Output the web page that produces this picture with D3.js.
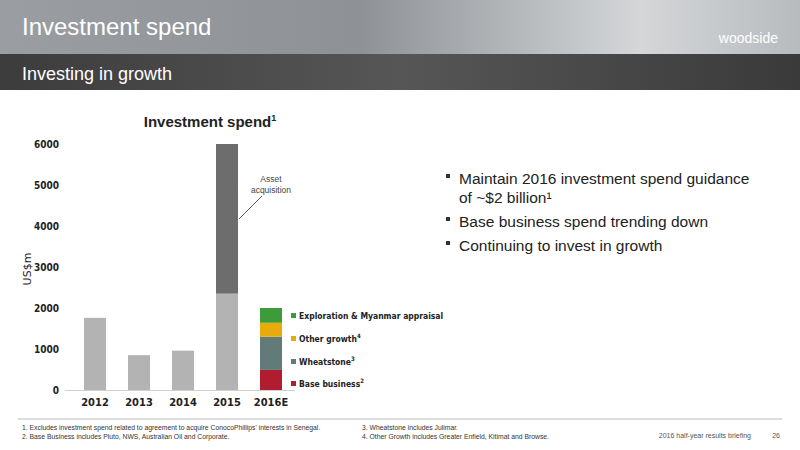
<!DOCTYPE html>
<html><head><meta charset="utf-8">
<script src="https://cdn.jsdelivr.net/npm/d3@7"></script>
<style>body{margin:0;background:#fff}svg{display:block;font-family:Arial,"Liberation Sans",sans-serif}</style>
</head><body><svg id="c" width="800" height="450"></svg>
<script>
const years = ["2012","2013","2014","2015","2016E"];
const baseSpend = [1760, 850, 960, 2350, 0];
const assetAcquisition = [0, 0, 0, 3650, 0];
const seg2016Names = ["Base business","Wheatstone","Other growth","Exploration & Myanmar appraisal"];
const seg2016Values = [490, 810, 340, 360];
const seg2016Sup = ["2","3","4",""];
const seg2016Colors = ["#b01c30","#627b79","#e7ab0b","#3d9b3a"];
const yTicks = [0,1000,2000,3000,4000,5000,6000];
const bullets = ["Maintain 2016 investment spend guidance|of ~$2 billion¹","Base business spend trending down","Continuing to invest in growth"];

const svg = d3.select("#c");
const defs = svg.append("defs");
const g1 = defs.append("linearGradient").attr("id","hg");
[["0%","#9a9ea2"],["45%","#8e9296"],["80%","#d4d6d8"],["100%","#b8bbbe"]].forEach(s=>g1.append("stop").attr("offset",s[0]).attr("stop-color",s[1]));
const g2 = defs.append("linearGradient").attr("id","sg");
[["0%","#3c3c3c"],["50%","#565656"],["100%","#3a3a3a"]].forEach(s=>g2.append("stop").attr("offset",s[0]).attr("stop-color",s[1]));
svg.append("rect").attr("width",800).attr("height",54).attr("fill","url(#hg)");
svg.append("rect").attr("y",54).attr("width",800).attr("height",36).attr("fill","url(#sg)");
svg.append("text").attr("x",22).attr("y",35).attr("fill","#fff").attr("font-size",24).text("Investment spend");
svg.append("text").attr("x",22).attr("y",80).attr("fill","#fff").attr("font-size",18).text("Investing in growth");
svg.append("text").attr("x",778).attr("y",43).attr("text-anchor","end").attr("fill","#fff").attr("font-size",14).text("woodside");

const x = d3.scaleBand().domain(years).range([73,293]).paddingInner(0.5).paddingOuter(0.25);
const y = d3.scaleLinear().domain([0,6000]).range([390,144]);

svg.append("text").attr("x",210).attr("y",127).attr("text-anchor","middle").attr("font-size",15).attr("font-weight","bold").attr("fill","#222").html('Investment spend<tspan font-size="9" dy="-6">1</tspan>');

const ya = svg.append("g").attr("transform","translate(62,0)").call(d3.axisLeft(y).tickValues(yTicks).tickSize(0).tickFormat(d3.format("d")));
ya.select(".domain").remove();
ya.selectAll("text").attr("font-size",10).attr("font-weight","bold").attr("fill","#222").attr("font-family","DejaVu Sans Condensed, sans-serif");
svg.append("text").attr("transform","translate(31,269) rotate(-90)").attr("text-anchor","middle").attr("font-size",11).attr("fill","#222").attr("font-family","DejaVu Sans, sans-serif").text("US$m");

svg.selectAll(".b").data(years.slice(0,4)).join("rect").attr("x",d=>x(d)).attr("width",x.bandwidth())
 .attr("y",(d,i)=>y(baseSpend[i])).attr("height",(d,i)=>y(0)-y(baseSpend[i])).attr("fill","#b3b3b3");
svg.selectAll(".a").data(years.slice(0,4)).join("rect").attr("x",d=>x(d)).attr("width",x.bandwidth())
 .attr("y",(d,i)=>y(baseSpend[i]+assetAcquisition[i])).attr("height",(d,i)=>y(0)-y(assetAcquisition[i])).attr("fill","#6d6d6d");
let cum=0;
const stacks = seg2016Values.map(v=>{const s=[cum,cum+v];cum+=v;return s;});
svg.selectAll(".s").data(stacks).join("rect").attr("x",x("2016E")).attr("width",x.bandwidth())
 .attr("y",d=>y(d[1])).attr("height",d=>y(d[0])-y(d[1])).attr("fill",(d,i)=>seg2016Colors[i]);
svg.append("line").attr("x1",65).attr("x2",295).attr("y1",y(0)+0.5).attr("y2",y(0)+0.5).attr("stroke","#d0d0d0");
const xa = svg.append("g").attr("transform",`translate(0,${y(0)+5})`).call(d3.axisBottom(x).tickSize(0));
xa.select(".domain").remove();
xa.selectAll("text").attr("font-size",11).attr("font-weight","bold").attr("fill","#222").attr("font-family","DejaVu Sans Condensed, sans-serif");

const ly = [388,366,343,320];
seg2016Names.forEach((n,i)=>{
  svg.append("rect").attr("x",291).attr("y",ly[i]-7).attr("width",5).attr("height",5).attr("fill",seg2016Colors[i]);
  svg.append("text").attr("x",299).attr("y",ly[i]-1).attr("font-size",8.5).attr("font-weight","bold").attr("fill","#222").attr("font-family","DejaVu Sans Condensed, sans-serif")
   .html(n+(seg2016Sup[i]?`<tspan font-size="6" dy="-4">${seg2016Sup[i]}</tspan>`:""));
});
svg.append("text").attr("x",271).attr("y",182).attr("text-anchor","middle").attr("font-size",8.5).attr("fill","#444").text("Asset");
svg.append("text").attr("x",271).attr("y",193).attr("text-anchor","middle").attr("font-size",8.5).attr("fill","#444").text("acquisition");
svg.append("line").attr("x1",262).attr("y1",196).attr("x2",239).attr("y2",219).attr("stroke","#333").attr("stroke-width",0.8);

let by=184;
bullets.forEach((b,i)=>{
  svg.append("rect").attr("x",446).attr("y",by-10).attr("width",4).attr("height",4).attr("fill","#333");
  b.split("|").forEach((ln,j)=>{
    svg.append("text").attr("x",459).attr("y",by+j*19).attr("font-size",15.5).attr("fill","#222").text(ln);
  });
  by += b.split("|").length*19+5;
});
svg.append("line").attr("x1",18).attr("x2",782).attr("y1",419).attr("y2",419).attr("stroke","#bbb");
const fn=[[22,430,"1. Excludes investment spend related to agreement to acquire ConocoPhillips' interests in Senegal."],[22,439,"2. Base Business includes Pluto, NWS, Australian Oil and Corporate."],[362,430,"3. Wheatstone includes Julimar."],[362,439,"4. Other Growth includes Greater Enfield, Kitimat and Browse."]];
fn.forEach(f=>svg.append("text").attr("x",f[0]).attr("y",f[1]).attr("font-size",6.8).attr("fill","#333").text(f[2]));
svg.append("text").attr("x",751).attr("y",438).attr("text-anchor","end").attr("font-size",7).attr("fill","#555").text("2016 half-year results briefing");
svg.append("text").attr("x",780).attr("y",438).attr("text-anchor","end").attr("font-size",7).attr("fill","#555").text("26");
</script></body></html>
